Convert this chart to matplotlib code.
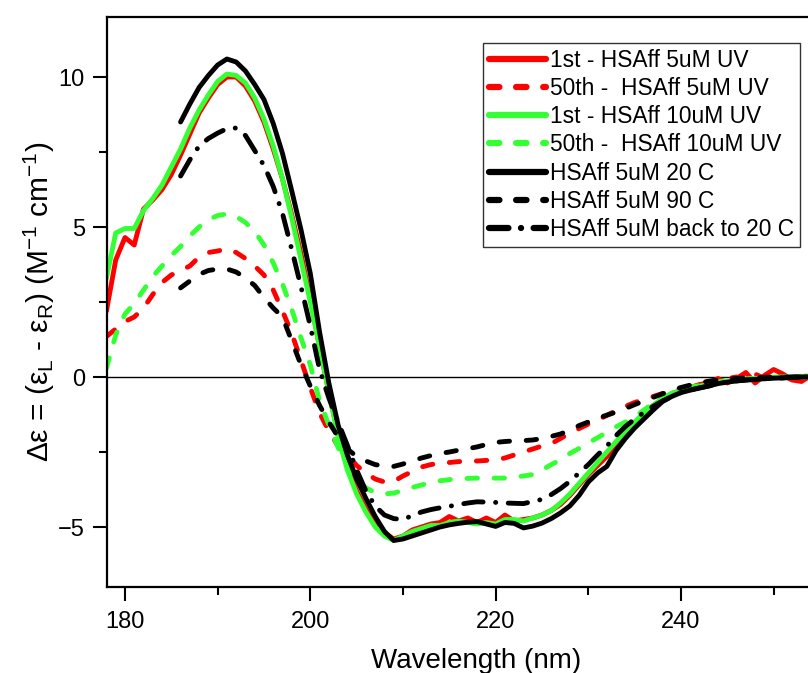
import matplotlib
matplotlib.use("Agg")
import matplotlib.pyplot as plt
import numpy as np

plt.rcParams['font.family'] = ['Liberation Sans', 'DejaVu Sans']
plt.rcParams['mathtext.fontset'] = 'custom'
plt.rcParams['mathtext.rm'] = 'Liberation Sans'
plt.rcParams['mathtext.it'] = 'Liberation Sans'
plt.rcParams['lines.scale_dashes'] = False

# wavelength grids (nm)
wl_full = np.arange(178, 255)
wl_short = np.arange(186, 255)

red_1st = [2.2, 3.9, 4.65, 4.4, 5.6, 5.9, 6.25, 6.75, 7.4, 8.1, 8.8, 9.3, 9.75, 10.0, 10.0, 9.7,
           9.2, 8.5, 7.6, 6.6, 5.4, 4.1, 2.6, 1.0, -0.5, -1.9, -3.0, -3.8, -4.4, -4.85, -5.2, -5.4,
           -5.3, -5.1, -5.0, -4.9, -4.85, -4.65, -4.8, -4.7, -4.85, -4.7, -4.85, -4.6, -4.8, -4.75,
           -4.7, -4.6, -4.45, -4.25, -3.95, -3.6, -3.25, -2.95, -2.65, -2.25, -1.9, -1.55, -1.25,
           -0.95, -0.75, -0.55, -0.45, -0.35, -0.25, -0.2, -0.05, -0.2, -0.05, 0.15, -0.2, 0.05,
           0.25, 0.1, -0.1, -0.15, 0.05]
red_50th = [1.35, 1.6, 1.85, 2.0, 2.3, 2.75, 3.15, 3.4, 3.55, 3.7, 4.0, 4.15, 4.2, 4.27, 4.15, 3.95,
            3.7, 3.4, 2.9, 2.2, 1.45, 0.55, -0.35, -1.2, -1.8, -2.3, -2.6, -2.95, -3.2, -3.4, -3.5,
            -3.48, -3.3, -3.15, -3.0, -2.92, -2.87, -2.85, -2.82, -2.81, -2.8, -2.78, -2.76, -2.7,
            -2.6, -2.5, -2.4, -2.3, -2.22, -2.05, -1.87, -1.72, -1.57, -1.43, -1.28, -1.12, -0.98,
            -0.85, -0.75, -0.65, -0.55, -0.45, -0.38, -0.3, -0.22, -0.15, -0.1, -0.05, 0.0, -0.1,
            0.1, -0.05, 0.15, 0.05, -0.1, 0.05, 0.0]
green_1st = [3.3, 4.8, 4.95, 4.95, 5.55, 5.95, 6.4, 7.0, 7.6, 8.3, 8.9, 9.4, 9.85, 10.1, 10.05, 9.8,
             9.3, 8.6, 7.7, 6.6, 5.3, 3.9, 2.5, 1.0, -0.5, -2.0, -3.1, -3.9, -4.5, -5.0, -5.3, -5.45,
             -5.3, -5.15, -5.05, -4.95, -4.95, -4.85, -4.8, -4.85, -4.9, -4.85, -4.9, -4.75, -4.75,
             -4.8, -4.7, -4.6, -4.45, -4.2, -3.9, -3.55, -3.2, -2.85, -2.5, -2.15, -1.8, -1.5, -1.2,
             -0.95, -0.7, -0.55, -0.45, -0.35, -0.3, -0.25, -0.2, -0.15, -0.12, -0.1, -0.05, -0.02,
             0.0, 0.0, 0.0, 0.02, 0.03]
green_50th = [0.3, 1.4, 2.1, 2.45, 2.9, 3.35, 3.7, 4.05, 4.35, 4.7, 5.0, 5.25, 5.38, 5.44, 5.35, 5.15,
              4.85, 4.4, 3.8, 3.1, 2.25, 1.3, 0.4, -0.8, -1.6, -2.35, -2.95, -3.4, -3.7, -3.85, -3.9,
              -3.87, -3.78, -3.68, -3.6, -3.52, -3.46, -3.42, -3.4, -3.38, -3.37, -3.37, -3.37, -3.37,
              -3.34, -3.3, -3.25, -3.1, -2.92, -2.76, -2.55, -2.38, -2.2, -2.02, -1.85, -1.66, -1.5,
              -1.33, -1.1, -0.88, -0.7, -0.55, -0.43, -0.35, -0.28, -0.22, -0.16, -0.12, -0.08, -0.06,
              -0.04, -0.03, -0.02, -0.01, 0.0, 0.0, 0.0]
black_20 = [8.5, 9.1, 9.65, 10.05, 10.4, 10.6, 10.5, 10.2, 9.75, 9.25, 8.45, 7.45, 6.2, 4.9, 3.45, 1.5,
            -0.2, -1.6, -2.6, -3.4, -4.05, -4.65, -5.15, -5.45, -5.4, -5.3, -5.2, -5.1, -5.0, -4.93,
            -4.88, -4.84, -4.82, -4.9, -4.98, -4.85, -4.88, -5.03, -4.97, -4.87, -4.72, -4.53, -4.3,
            -3.95, -3.5, -3.2, -2.98, -2.45, -2.05, -1.7, -1.4, -1.1, -0.82, -0.65, -0.52, -0.44,
            -0.37, -0.3, -0.22, -0.17, -0.13, -0.1, -0.08, -0.06, -0.04, -0.03, -0.01, 0.0, 0.01]
black_90 = [2.97, 3.2, 3.42, 3.55, 3.6, 3.6, 3.5, 3.3, 3.05, 2.65, 2.3, 2.0, 1.2, 0.4, -0.3, -0.95,
            -1.5, -2.0, -2.4, -2.65, -2.8, -2.92, -2.97, -2.98, -2.9, -2.8, -2.7, -2.62, -2.55, -2.5,
            -2.44, -2.39, -2.33, -2.25, -2.18, -2.15, -2.13, -2.12, -2.1, -2.05, -1.98, -1.9, -1.77,
            -1.62, -1.5, -1.38, -1.27, -1.17, -1.05, -0.92, -0.8, -0.68, -0.56, -0.45, -0.35, -0.27,
            -0.2, -0.14, -0.1, -0.07, -0.05, -0.03, -0.02, -0.01, 0.0, 0.0, 0.0, 0.0, 0.0]
black_back = [6.7, 7.24, 7.7, 7.95, 8.13, 8.28, 8.3, 8.05, 7.55, 7.05, 6.35, 5.45, 4.25, 3.0, 1.7, 0.25,
              -0.7, -1.5, -2.28, -3.1, -3.8, -4.3, -4.6, -4.72, -4.75, -4.62, -4.5, -4.42, -4.36,
              -4.31, -4.25, -4.2, -4.16, -4.17, -4.18, -4.2, -4.21, -4.22, -4.15, -4.08, -3.92, -3.72,
              -3.48, -3.2, -2.92, -2.6, -2.3, -1.95, -1.65, -1.4, -1.18, -0.98, -0.8, -0.65, -0.52,
              -0.43, -0.36, -0.3, -0.22, -0.17, -0.13, -0.1, -0.08, -0.06, -0.04, -0.03, -0.01, 0.0, 0.01]

labels = ["1st - HSAff 5uM UV", "50th -  HSAff 5uM UV", "1st - HSAff 10uM UV",
          "50th -  HSAff 10uM UV", "HSAff 5uM 20 C", "HSAff 5uM 90 C", "HSAff 5uM back to 20 C"]

RED = "#ff0000"
GREEN = "#33ff33"
lw = 3.5
dash = (0, (7.5, 12))
dashdot = (0, (14, 9, 0.1, 9))

fig = plt.figure(figsize=(8.08, 6.73), dpi=100)
ax = fig.add_axes([107 / 808, 86 / 673, 738 / 808, 570 / 673])

ax.axhline(0, color="black", lw=1.0, zorder=1)

ax.plot(wl_full, red_1st, color=RED, lw=lw, label=labels[0], solid_capstyle="round", solid_joinstyle="round")
ax.plot(wl_full, red_50th, color=RED, lw=lw, ls=dash, label=labels[1], dash_capstyle="round")
ax.plot(wl_full, green_1st, color=GREEN, lw=lw, label=labels[2], solid_capstyle="round", solid_joinstyle="round")
ax.plot(wl_full, green_50th, color=GREEN, lw=lw, ls=dash, label=labels[3], dash_capstyle="round")
ax.plot(wl_short, black_20, color="black", lw=lw, label=labels[4], solid_capstyle="round", solid_joinstyle="round")
ax.plot(wl_short, black_90, color="black", lw=lw, ls=dash, label=labels[5], dash_capstyle="round")
ax.plot(wl_short, black_back, color="black", lw=lw, ls=dashdot, label=labels[6], dash_capstyle="round")

ax.set_xlim(178.06, 257.7)
ax.set_ylim(-7, 12)
ax.set_xticks([180, 200, 220, 240])
ax.set_xticks([190, 210, 230, 250], minor=True)
ax.set_yticks([-5, 0, 5, 10])
ax.set_yticks([-2.5, 2.5, 7.5], minor=True)
ax.tick_params(which="major", direction="out", length=10, width=1.5, labelsize=17, pad=6)
ax.tick_params(which="minor", direction="out", length=6, width=1.5)
ax.tick_params(axis="x", which="major", pad=7)
for side in ["left", "bottom", "top"]:
    ax.spines[side].set_linewidth(1.6)
ax.spines["right"].set_visible(False)

ax.set_xlabel("Wavelength (nm)", fontsize=20, labelpad=11)
ax.set_ylabel(r"Δε = (ε$_\mathrm{L}$ - ε$_\mathrm{R}$) (M$^\mathrm{-1}$ cm$^\mathrm{-1}$)", fontsize=21.5)
ax.yaxis.set_label_coords(-0.068, 0.5)

leg = ax.legend(loc="upper right", bbox_to_anchor=(800 / 808, 1 - 43 / 673),
                bbox_transform=fig.transFigure, borderaxespad=0, fontsize=16.4,
                frameon=True, fancybox=False, edgecolor="black", handlelength=2.5,
                handletextpad=0.2, labelspacing=0.23, borderpad=0.25)
leg.get_frame().set_linewidth(1.0)
for h in leg.get_lines():
    h.set_linewidth(4.5)

fig.savefig("out.png", dpi=100)
